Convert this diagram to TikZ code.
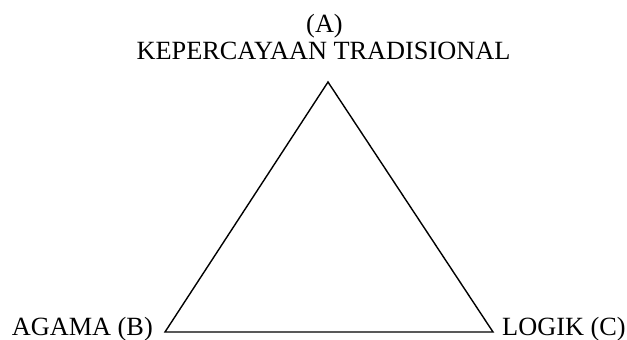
\documentclass[tikz,border=0pt]{standalone}
\usepackage{fontspec}
\setmainfont{Liberation Serif}
\begin{document}
\begin{tikzpicture}[x=1pt,y=-1pt,
  lbl/.style={inner sep=0pt,font=\fontsize{26.3}{26}\selectfont},
  edge/.style={line width=1.4pt,line join=miter}]
\useasboundingbox (0,0) rectangle (627,340);
\coordinate (A) at (328,82);
\coordinate (B) at (165,332);
\coordinate (C) at (493,332);
\draw[edge] (A) -- (B) -- (C) -- cycle;
\node[lbl,anchor=base] (la1) at (324.5,32.5) {(A)};
\node[lbl,anchor=base] (la2) at (323.5,59) {KEPERCAYAAN TRADISIONAL};
\node[lbl,anchor=base east] (lb) at (153,335.5) {AGAMA (B)};
\node[lbl,anchor=base west] (lc) at (502,335.5) {LOGIK (C)};
\end{tikzpicture}
\end{document}
